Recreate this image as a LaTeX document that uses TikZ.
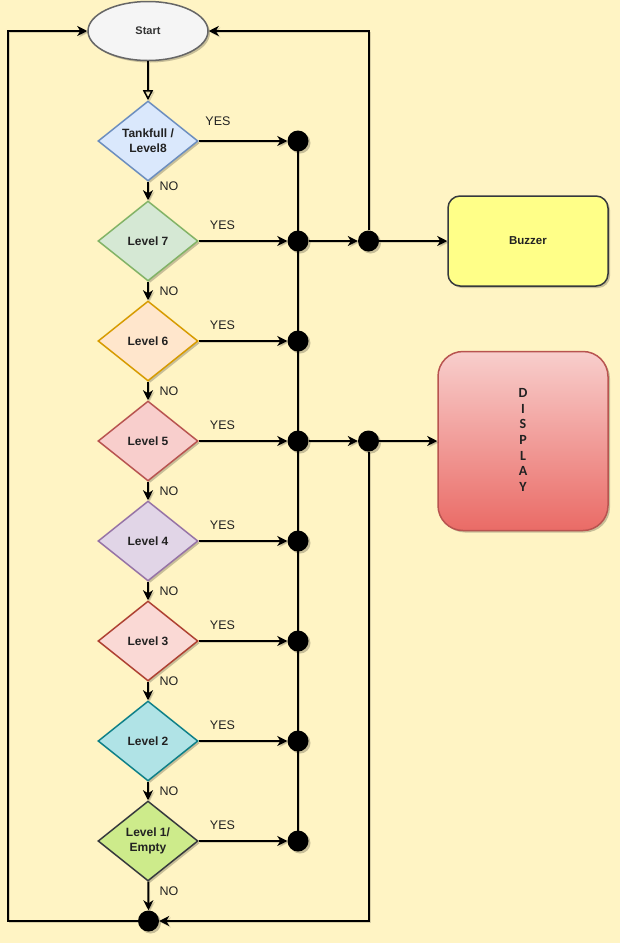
\documentclass[tikz,border=0pt]{standalone}
\usepackage{fontspec}
\setmainfont{Liberation Sans}
\newfontfamily\dispfont{Carlito}
\usetikzlibrary{shapes.geometric,arrows.meta,shadows}
\definecolor{bg}{HTML}{FFF4C4}
\definecolor{stF}{HTML}{F5F5F5}\definecolor{stD}{HTML}{666666}
\definecolor{c8F}{HTML}{DAE8FC}\definecolor{c8D}{HTML}{6C8EBF}
\definecolor{c7F}{HTML}{D5E8D4}\definecolor{c7D}{HTML}{82B366}
\definecolor{c6F}{HTML}{FFE6CC}\definecolor{c6D}{HTML}{D79B00}
\definecolor{c5F}{HTML}{F8CECC}\definecolor{c5D}{HTML}{B85450}
\definecolor{c4F}{HTML}{E1D5E7}\definecolor{c4D}{HTML}{9673A6}
\definecolor{c3F}{HTML}{FAD9D5}\definecolor{c3D}{HTML}{AE4132}
\definecolor{c2F}{HTML}{B0E3E6}\definecolor{c2D}{HTML}{0E8088}
\definecolor{c1F}{HTML}{CDEB8B}\definecolor{c1D}{HTML}{36393D}
\definecolor{bzF}{HTML}{FFFF88}\definecolor{bzD}{HTML}{36393D}
\definecolor{dsT}{HTML}{F8CECC}\definecolor{dsB}{HTML}{EA6B66}\definecolor{dsD}{HTML}{B85450}
\definecolor{txt}{HTML}{222222}
\definecolor{sttxt}{HTML}{333333}
\tikzset{
  shd/.style={drop shadow={shadow xshift=2pt,shadow yshift=-2pt,opacity=0.22,fill=black}},
  lshd/.style={preaction={draw=black,opacity=0.15,transform canvas={shift={(1.5pt,-1.5pt)}}}},
  dec/.style={diamond, shape aspect=1.25, minimum width=100pt, minimum height=80pt,
    inner sep=0pt, line width=1.5pt, align=center, shd, text=txt,
    font=\fontsize{12}{15}\selectfont\bfseries},
  startnode/.style={ellipse, minimum width=120pt, minimum height=59pt, inner sep=0pt,
    fill=stF, draw=stD, line width=1.5pt, shd, text=sttxt,
    font=\fontsize{11}{13}\selectfont\bfseries},
  dot/.style={circle, fill=black, minimum size=21pt, inner sep=0pt, shd},
  lab/.style={font=\fontsize{12.5}{14}\selectfont, text=txt, inner sep=0pt},
  conn/.style={line width=2pt, draw=black, lshd, -{Stealth[length=10pt,width=10pt,inset=3pt]}},
  plain/.style={line width=2pt, draw=black, lshd},
  openarr/.style={line width=2pt, draw=black, lshd, -{Triangle[open,length=10pt,width=10pt,line width=1.5pt]}}
}
\begin{document}
\begin{tikzpicture}[x=1pt,y=-1pt]
\fill[bg] (0,0) rectangle (620,943);
\useasboundingbox (0,0) rectangle (620,943);

% nodes
\node[startnode] (start) at (148,31) {Start};
\node[dec, fill=c8F, draw=c8D] (d8) at (148,141) {Tankfull /\\Level8};
\node[dec, fill=c7F, draw=c7D] (d7) at (148,241) {Level 7};
\node[dec, fill=c6F, draw=c6D] (d6) at (148,341) {Level 6};
\node[dec, fill=c5F, draw=c5D] (d5) at (148,441) {Level 5};
\node[dec, fill=c4F, draw=c4D] (d4) at (148,541) {Level 4};
\node[dec, fill=c3F, draw=c3D] (d3) at (148,641) {Level 3};
\node[dec, fill=c2F, draw=c2D] (d2) at (148,741) {Level 2};
\node[dec, fill=c1F, draw=c1D] (d1) at (148,841) {Level 1/\\Empty};

\node[rectangle, rounded corners=12pt, minimum width=160pt, minimum height=90pt,
  fill=bzF, draw=bzD, line width=1.5pt, shd, text=txt, font=\fontsize{11.5}{13}\selectfont\bfseries] (bz) at (528,241) {Buzzer};
\node[rectangle, rounded corners=25pt, minimum width=170pt, minimum height=179pt,
  top color=dsT, bottom color=dsB, draw=dsD, line width=1.5pt, shd] (ds) at (523,441) {};
\node[align=center, text=txt, font=\dispfont\bfseries\fontsize{14}{15.7}\selectfont] (dstxt) at (523,440) {D\\I\\S\\P\\L\\A\\Y};

% bus line behind the dots
\draw[plain] (298,141) -- (298,841);

\node[dot] (p8) at (298,141) {};
\node[dot] (p7) at (298,241) {};
\node[dot] (p6) at (298,341) {};
\node[dot] (p5) at (298,441) {};
\node[dot] (p4) at (298,541) {};
\node[dot] (p3) at (298,641) {};
\node[dot] (p2) at (298,741) {};
\node[dot] (p1) at (298,841) {};
\node[dot] (q7) at (368.5,241) {};
\node[dot] (q5) at (368.5,441) {};
\node[dot] (pe) at (148.5,921) {};

\coordinate (lc) at (8,921);

% start to first decision
\draw[openarr] (start) -- (d8);

% NO arrows
\draw[conn] (d8) -- (d7);
\draw[conn] (d7) -- (d6);
\draw[conn] (d6) -- (d5);
\draw[conn] (d5) -- (d4);
\draw[conn] (d4) -- (d3);
\draw[conn] (d3) -- (d2);
\draw[conn] (d2) -- (d1);
\draw[conn] (d1) -- (pe);

% YES arrows
\draw[conn] (d8.east) -- (p8);
\draw[conn] (d7.east) -- (p7);
\draw[conn] (d6.east) -- (p6);
\draw[conn] (d5.east) -- (p5);
\draw[conn] (d4.east) -- (p4);
\draw[conn] (d3.east) -- (p3);
\draw[conn] (d2.east) -- (p2);
\draw[conn] (d1.east) -- (p1);

% outputs
\draw[conn] (p7) -- (q7);
\draw[conn] (q7) -- (bz.west);
\draw[conn] (q7) |- (start.east);
\draw[conn] (p5) -- (q5);
\draw[conn] (q5) -- (ds.west);
\draw[conn] (q5) |- (pe.east);
\draw[conn] (pe) -- (lc) |- (start.west);

% labels
\node[lab] (y8) at (218,121) {YES};
\node[lab] (y7) at (222.5,225) {YES};
\node[lab] (y6) at (222.5,325) {YES};
\node[lab] (y5) at (222.5,425) {YES};
\node[lab] (y4) at (222.5,525) {YES};
\node[lab] (y3) at (222.5,625) {YES};
\node[lab] (y2) at (222.5,725) {YES};
\node[lab] (y1) at (222.5,825) {YES};
\node[lab] (n8) at (169,186) {NO};
\node[lab] (n7) at (169,291) {NO};
\node[lab] (n6) at (169,391) {NO};
\node[lab] (n5) at (169,491) {NO};
\node[lab] (n4) at (169,591) {NO};
\node[lab] (n3) at (169,681) {NO};
\node[lab] (n2) at (169,791) {NO};
\node[lab] (n1) at (169,891) {NO};
\end{tikzpicture}
\end{document}
